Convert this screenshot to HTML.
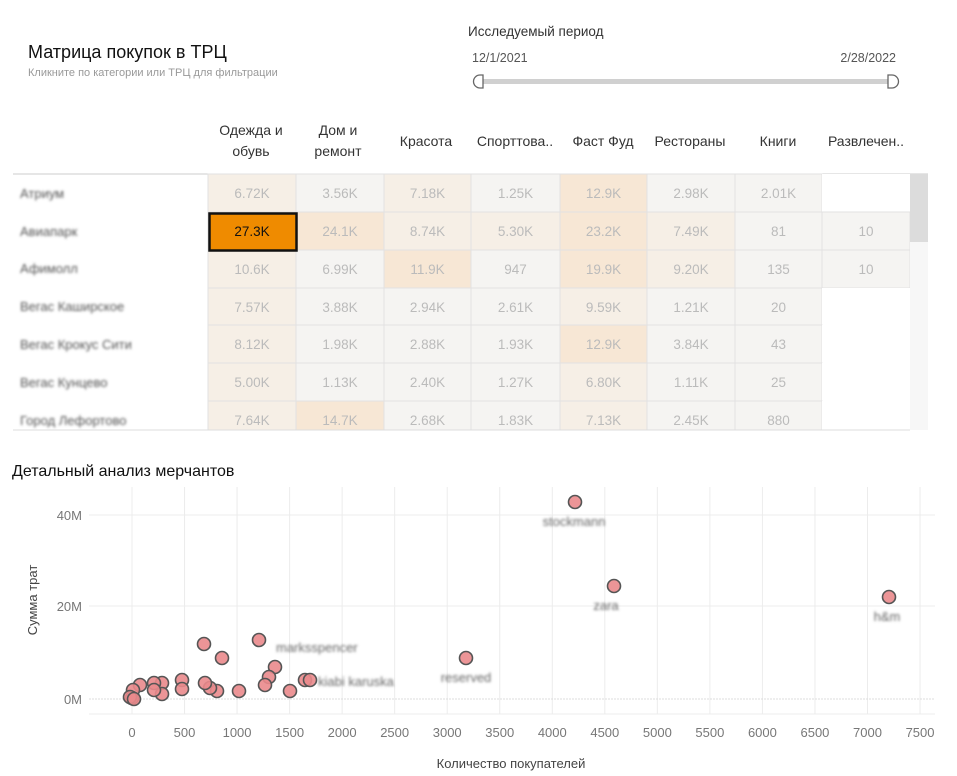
<!DOCTYPE html>
<html><head><meta charset="utf-8"><style>
html,body{margin:0;padding:0;background:#fff;width:957px;height:776px;overflow:hidden}
svg{display:block}
text{font-family:"Liberation Sans","Noto Sans CJK SC",sans-serif}
</style></head><body>
<svg width="957" height="776" viewBox="0 0 957 776" xmlns="http://www.w3.org/2000/svg">
<defs><filter id="b" x="-10%" y="-50%" width="120%" height="200%"><feGaussianBlur stdDeviation="1.4"/></filter></defs>
<text x="28" y="58" font-size="18" fill="#111">Матрица покупок в ТРЦ</text>
<text x="28" y="76" font-size="11" fill="#999">Кликните по категории или ТРЦ для фильтрации</text>
<text x="468" y="36" font-size="13.5" fill="#333">Исследуемый период</text>
<text x="472" y="62" font-size="12.5" fill="#555">12/1/2021</text>
<text x="896" y="62" font-size="12.5" fill="#555" text-anchor="end">2/28/2022</text>
<rect x="478" y="79" width="420" height="5" fill="#d0d0d0"/>
<path d="M483 75 h-3 a6 6 0 0 0 0 13 h3 z" fill="#fff" stroke="#666" stroke-width="1.3"/>
<path d="M888 75 h4 a6.5 6.5 0 0 1 0 13 h-4 z" fill="#fff" stroke="#666" stroke-width="1.3"/>
<g font-size="14" fill="#333" text-anchor="middle">
<text x="251" y="135">Одежда и</text><text x="251" y="156">обувь</text>
<text x="338" y="135">Дом и</text><text x="338" y="156">ремонт</text>
<text x="426" y="146">Красота</text>
<text x="515" y="146">Спорттова..</text>
<text x="603" y="146">Фаст Фуд</text>
<text x="690" y="146">Рестораны</text>
<text x="778" y="146">Книги</text>
<text x="866" y="146">Развлечен..</text>
</g>
<line x1="13" y1="174" x2="928" y2="174" stroke="#ccc"/>
<g id="cells" font-size="13.5" text-anchor="middle" fill="#bbb"></g>
<g font-size="13" fill="#555" filter="url(#b)">
<text x="20" y="198">Атриум</text><text x="20" y="236">Авиапарк</text><text x="20" y="273">Афимолл</text>
<text x="20" y="311">Вегас Каширское</text><text x="20" y="349">Вегас Крокус Сити</text><text x="20" y="387">Вегас Кунцево</text><text x="20" y="425">Город Лефортово</text>
</g>
<rect x="910" y="174" width="18" height="256" fill="#f7f7f7"/>
<rect x="910" y="174" width="18" height="68" fill="#dcdcdc"/>
<line x1="13" y1="430" x2="910" y2="430" stroke="#ddd"/>
<text x="12" y="476" font-size="16" fill="#111">Детальный анализ мерчантов</text>
<g id="grid" stroke="#ececec" stroke-width="1"></g>
<g font-size="13" fill="#777" text-anchor="end">
<text x="82" y="520">40M</text><text x="82" y="611">20M</text><text x="82" y="704">0M</text>
</g>
<text transform="translate(37,600) rotate(-90)" font-size="13" fill="#444" text-anchor="middle">Сумма трат</text>
<g id="xt" font-size="13" fill="#777" text-anchor="middle"></g>
<text x="511" y="768" font-size="13" fill="#444" text-anchor="middle">Количество покупателей</text>
<g font-size="13" fill="#666" filter="url(#b)">
<text x="574" y="526" text-anchor="middle">stockmann</text><text x="606" y="610" text-anchor="middle">zara</text><text x="887" y="621" text-anchor="middle">h&amp;m</text>
<text x="276" y="652">marksspencer</text>
<text x="318" y="686">kiabi karuska</text><text x="466" y="682" text-anchor="middle">reserved</text>
</g>
<g id="pts" fill="#ea8a8c" fill-opacity="0.9" stroke="#555" stroke-width="1.6"></g>
</svg>
<script>
var ns="http://www.w3.org/2000/svg";
function el(p,t,a,txt){var e=document.createElementNS(ns,t);for(var k in a)e.setAttribute(k,a[k]);if(txt!==undefined)e.textContent=txt;p.appendChild(e);return e;}
var cols=[208,296,384,471,560,647,735,822,910];
var rows=[174,212,250,288,325,363,401,439];
var C={0:"#f5f4f2",1:"#f6efe6",2:"#f7e7d5",w:"#ffffff",o:"#ef8b00"};
var data=[
[["6.72K",1],["3.56K",0],["7.18K",1],["1.25K",0],["12.9K",2],["2.98K",0],["2.01K",0],["","w"]],
[["27.3K","o"],["24.1K",2],["8.74K",1],["5.30K",1],["23.2K",2],["7.49K",1],["81",0],["10",0]],
[["10.6K",1],["6.99K",0],["11.9K",2],["947",0],["19.9K",2],["9.20K",1],["135",0],["10",0]],
[["7.57K",1],["3.88K",0],["2.94K",0],["2.61K",0],["9.59K",1],["1.21K",0],["20",0],["","w"]],
[["8.12K",1],["1.98K",0],["2.88K",0],["1.93K",0],["12.9K",2],["3.84K",0],["43",0],["","w"]],
[["5.00K",1],["1.13K",0],["2.40K",0],["1.27K",0],["6.80K",1],["1.11K",0],["25",0],["","w"]],
[["7.64K",1],["14.7K",2],["2.68K",0],["1.83K",0],["7.13K",1],["2.45K",0],["880",0],["","w"]]];
var g=document.getElementById("cells");
data.forEach(function(r,i){r.forEach(function(c,j){
 var x=cols[j],y=rows[i],w=cols[j+1]-x,h=rows[i+1]-y;if(i==6)h=430-y;
 el(g,"rect",{x:x,y:y,width:w,height:h,fill:C[c[1]],stroke:c[1]=="w"?"none":"#e2e2e2"});
 if(c[0])el(g,"text",{x:x+w/2,y:y+24,fill:c[1]=="o"?"#111":"#bbb"},c[0]);
});});
el(g,"rect",{x:209.5,y:213.5,width:87,height:37,fill:"none",stroke:"#111","stroke-width":2.5});
var gr=document.getElementById("grid"),xt=document.getElementById("xt");
function X(v){return 132+v*0.10507;}
for(var v=0;v<=7500;v+=500){var x=X(v);el(gr,"line",{x1:x,y1:487,x2:x,y2:714});el(xt,"text",{x:x,y:737},String(v));}
[515,606].forEach(function(y){el(gr,"line",{x1:89,y1:y,x2:935,y2:y});});
el(gr,"line",{x1:89,y1:699,x2:935,y2:699,stroke:"#ddd","stroke-dasharray":"2,1"});
el(gr,"line",{x1:89,y1:714,x2:935,y2:714});
var pts=[[204,644],[259,640],[222,658],[275,667],[269,677],[265,685],[290,691],[239,691],[217,691],[210,688],[205,683],[182,680],[182,689],[162,683],[162,694],[154,683],[154,690],[140,685],[133,690],[132,698],[130,697],[134,699],[305,680],[310,680],[466,658],[575,502],[614,586],[889,597]];
var gp=document.getElementById("pts");
pts.forEach(function(p){el(gp,"circle",{cx:p[0],cy:p[1],r:6.5});});
</script>
</body></html>
